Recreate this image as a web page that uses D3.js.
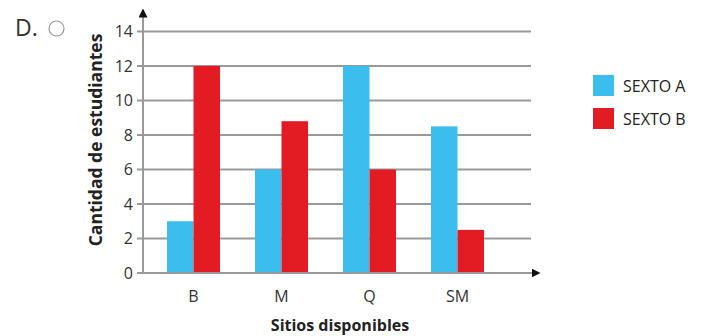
<!DOCTYPE html>
<html>
<head>
<meta charset="utf-8">
<script src="https://cdn.jsdelivr.net/npm/d3@7"></script>
<style>
  html, body { margin: 0; padding: 0; background: #fff; }
  svg { display: block; font-family: "Open Sans", "Noto Sans", sans-serif; }
</style>
</head>
<body>
<svg id="chart" width="705" height="336"></svg>
<script>
// Sitios disponibles y cantidad de estudiantes por curso
const categories = ["B", "M", "Q", "SM"];
const seriesNames = ["SEXTO A", "SEXTO B"];
const sextoA = [3, 6, 12, 8.5];
const sextoB = [12, 8.8, 6, 2.5];
const yTicks = [0, 2, 4, 6, 8, 10, 12, 14];
const colors = ["#3bbdee", "#e31b23"];

const svg = d3.select("#chart");

const x0 = 143, y0 = 273;
const yScale = d3.scaleLinear().domain([0, 14]).range([y0, 31.5]);
const xScale = d3.scaleBand().domain(categories).range([149.5, 501.5]).padding(0);
const inner = d3.scaleBand().domain(seriesNames).range([17.5, 70.5]).padding(0);

// Marker for the axis arrows
svg.append("defs").append("marker")
  .attr("id", "arrow").attr("viewBox", "0 0 10 10")
  .attr("refX", 5).attr("refY", 5)
  .attr("markerWidth", 9).attr("markerHeight", 9)
  .attr("markerUnits", "userSpaceOnUse")
  .attr("orient", "auto")
  .append("path").attr("d", "M0,0 L10,5 L0,10 Z").attr("fill", "#111");

// Gridlines with short tick marks
const grid = svg.append("g");
grid.selectAll("line").data(yTicks.filter(d => d > 0)).join("line")
  .attr("x1", x0 - 6).attr("x2", 531)
  .attr("y1", d => yScale(d)).attr("y2", d => yScale(d))
  .attr("stroke", "#999").attr("stroke-width", 2);

// Y tick labels
svg.append("g").selectAll("text").data(yTicks).join("text")
  .attr("x", 133).attr("y", d => yScale(d))
  .attr("dy", "0.36em")
  .attr("text-anchor", "end")
  .attr("font-size", 16).attr("fill", "#333")
  .text(d => d);

// Bars
const groups = svg.append("g").selectAll("g").data(categories).join("g")
  .attr("transform", d => `translate(${xScale(d)},0)`);
groups.selectAll("rect")
  .data((c, i) => [
    { s: seriesNames[0], v: sextoA[i], k: 0 },
    { s: seriesNames[1], v: sextoB[i], k: 1 }
  ])
  .join("rect")
  .attr("x", d => inner(d.s))
  .attr("width", inner.bandwidth())
  .attr("y", d => yScale(d.v))
  .attr("height", d => y0 - yScale(d.v))
  .attr("fill", d => colors[d.k]);

// Axes with arrows
svg.append("line")
  .attr("x1", x0 - 6).attr("x2", 536).attr("y1", y0).attr("y2", y0)
  .attr("stroke", "#999").attr("stroke-width", 2)
  .attr("marker-end", "url(#arrow)");
svg.append("line")
  .attr("x1", x0).attr("x2", x0).attr("y1", y0 + 1).attr("y2", 13)
  .attr("stroke", "#999").attr("stroke-width", 2)
  .attr("marker-end", "url(#arrow)");

// X tick labels
svg.append("g").selectAll("text").data(categories).join("text")
  .attr("x", d => xScale(d) + xScale.bandwidth() / 2)
  .attr("y", 296).attr("dy", "0.36em")
  .attr("text-anchor", "middle")
  .attr("font-size", 16).attr("fill", "#333")
  .text(d => d);

// Axis titles
svg.append("text")
  .attr("transform", "translate(102,140) rotate(-90)")
  .attr("text-anchor", "middle")
  .attr("font-size", 17.5).attr("font-weight", "bold").attr("fill", "#222")
  .text("Cantidad de estudiantes");
svg.append("text")
  .attr("x", 340).attr("y", 331)
  .attr("text-anchor", "middle")
  .attr("font-size", 16).attr("font-weight", "bold").attr("fill", "#222")
  .text("Sitios disponibles");

// Legend
const legend = svg.append("g").selectAll("g").data(seriesNames).join("g")
  .attr("transform", (d, i) => `translate(593,${75 + i * 33})`);
legend.append("rect").attr("width", 21).attr("height", 21)
  .attr("fill", (d, i) => colors[i]);
legend.append("text").attr("x", 30).attr("y", 11).attr("dy", "0.36em")
  .attr("font-size", 16).attr("fill", "#222")
  .text(d => d);

// Option marker
svg.append("text").attr("x", 15).attr("y", 36)
  .attr("font-size", 23).attr("fill", "#333")
  .text("D.");
svg.append("circle").attr("cx", 56.5).attr("cy", 28.5).attr("r", 7.5)
  .attr("fill", "none").attr("stroke", "#999").attr("stroke-width", 1.2);
</script>
</body>
</html>
